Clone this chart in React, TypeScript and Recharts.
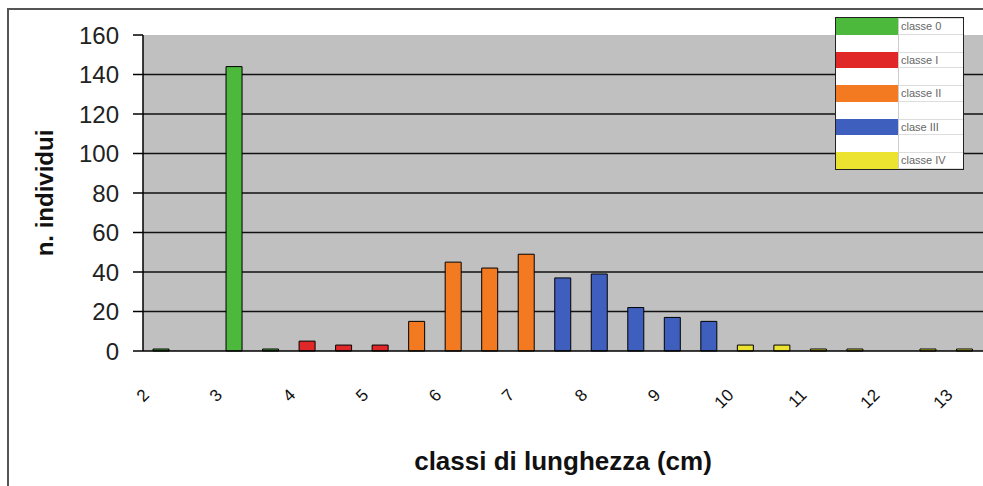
import React from 'react';
import { BarChart, Bar, Cell, XAxis, YAxis, CartesianGrid } from 'recharts';

// length classes (cm), one bar every half centimetre
const lengths = [2, 2.5, 3, 3.5, 4, 4.5, 5, 5.5, 6, 6.5, 7, 7.5, 8, 8.5, 9, 9.5, 10, 10.5, 11, 11.5, 12, 12.5, 13];
const counts = [1, 0, 144, 1, 5, 3, 3, 15, 45, 42, 49, 37, 39, 22, 17, 15, 3, 3, 1, 1, 0, 1, 1];
// age class of each length bin (index into classNames)
const ageClass = [0, 0, 0, 0, 1, 1, 1, 2, 2, 2, 2, 3, 3, 3, 3, 3, 4, 4, 4, 4, 4, 4, 4];
const classNames = ['classe 0', 'classe I', 'classe II', 'clase III', 'classe IV'];
const yTicks = [0, 20, 40, 60, 80, 100, 120, 140, 160];
const gridValues = [20, 40, 60, 80, 100, 120, 140];
// bin edges for the tick marks between the bars
const binEdges = [0, 1, 2, 3, 4, 5, 6, 7, 8, 9, 10, 11, 12, 13, 14, 15, 16, 17, 18, 19, 20, 21, 22, 23];

const COLORS = ['#4cb83c', '#e02828', '#f47a22', '#3f5fbf', '#ece230'];

const W = 983;
const H = 486;
const PLOT_LEFT = 143;
const PLOT_TOP = 35;
const AXIS_Y = 351;
const FONT = '"Liberation Sans", Arial, sans-serif';

const data = lengths.map((l, i) => ({ len: l, n: counts[i], cls: ageClass[i] }));

const LengthTick = (props: any) => {
  const { x, payload, index } = props;
  if (index % 2 !== 0) return <g />;
  const tx = x - 11;
  const ty = AXIS_Y + 45;
  return (
    <text
      x={tx}
      y={ty}
      transform={`rotate(-45, ${tx}, ${ty})`}
      textAnchor="end"
      fontSize={17}
      fontFamily={FONT}
      fill="#111"
    >
      {payload.value}
    </text>
  );
};

const YTitle = (props: any) => {
  const vb = props.viewBox || {};
  const cx = 44;
  const cy = vb.y + vb.height / 2;
  return (
    <text
      x={cx}
      y={cy}
      transform={`rotate(-90, ${cx}, ${cy})`}
      textAnchor="middle"
      dominantBaseline="central"
      fontSize={24}
      fontWeight="bold"
      fontFamily={FONT}
      fill="#111"
    >
      n. individui
    </text>
  );
};

const XTitle = (props: any) => {
  const vb = props.viewBox || {};
  return (
    <text
      x={vb.x + vb.width / 2}
      y={vb.y + 119}
      textAnchor="middle"
      fontSize={26}
      fontWeight="bold"
      fontFamily={FONT}
      fill="#111"
    >
      classi di lunghezza (cm)
    </text>
  );
};

const ClassLegend = () => (
  <div
    style={{
      position: 'absolute',
      left: 835,
      top: 17,
      width: 127,
      border: '1px solid #222',
      background: '#fff',
      fontFamily: FONT,
      fontSize: 11,
      color: '#666',
    }}
  >
    {classNames.map((name, i) => (
      <React.Fragment key={name}>
        <div style={{ display: 'flex', height: 16.5 }}>
          <div style={{ width: 62, background: COLORS[i] }} />
          <div
            style={{
              flex: 1,
              borderLeft: '1px solid #ccc',
              borderTop: '1px solid #ddd',
              borderBottom: '1px solid #ddd',
              lineHeight: '14px',
              paddingLeft: 2,
              boxSizing: 'border-box',
            }}
          >
            {name}
          </div>
        </div>
        {i < classNames.length - 1 && (
          <div style={{ display: 'flex', height: 17 }}>
            <div style={{ width: 62 }} />
            <div style={{ flex: 1, borderLeft: '1px solid #ccc' }} />
          </div>
        )}
      </React.Fragment>
    ))}
  </div>
);

export default function App() {
  return (
    <div style={{ position: 'absolute', left: 0, top: 0, width: W, height: H, background: '#fff', overflow: 'hidden' }}>
      <div
        style={{
          position: 'absolute',
          left: 7,
          top: 8,
          width: W,
          height: H,
          borderLeft: '2px solid #555',
          borderTop: '2px solid #555',
        }}
      />
      <BarChart
        width={W}
        height={H}
        data={data}
        margin={{ top: PLOT_TOP, right: 0, left: 0, bottom: 0 }}
        barSize={16}
        style={{ position: 'absolute', left: 0, top: 0 }}
      >
        <CartesianGrid
          vertical={false}
          horizontalValues={gridValues}
          fill="#c0c0c0"
          stroke="#111"
          strokeWidth={1.5}
        />
        <XAxis
          xAxisId="edges"
          type="number"
          domain={[0, lengths.length]}
          ticks={binEdges}
          interval={0}
          height={0}
          tick={false}
          axisLine={false}
          tickSize={7}
          tickLine={{ stroke: '#000', strokeWidth: 1.5 }}
        />
        <XAxis
          dataKey="len"
          interval={0}
          height={H - AXIS_Y}
          tickLine={false}
          tickSize={0}
          tickMargin={0}
          axisLine={{ stroke: '#000', strokeWidth: 1.5 }}
          tick={<LengthTick />}
          label={<XTitle />}
        />
        <YAxis
          width={PLOT_LEFT}
          domain={[0, 160]}
          ticks={yTicks}
          interval={0}
          tickSize={10}
          tickMargin={14}
          axisLine={{ stroke: '#000', strokeWidth: 1.5 }}
          tickLine={{ stroke: '#000', strokeWidth: 1.5 }}
          tick={{ fontSize: 24, fill: '#222', fontFamily: FONT }}
          label={<YTitle />}
        />
        <Bar dataKey="n" stroke="#000" strokeWidth={1} isAnimationActive={false}>
          {data.map((d, i) => (
            <Cell key={i} fill={COLORS[d.cls]} />
          ))}
        </Bar>
      </BarChart>
      <ClassLegend />
    </div>
  );
}
